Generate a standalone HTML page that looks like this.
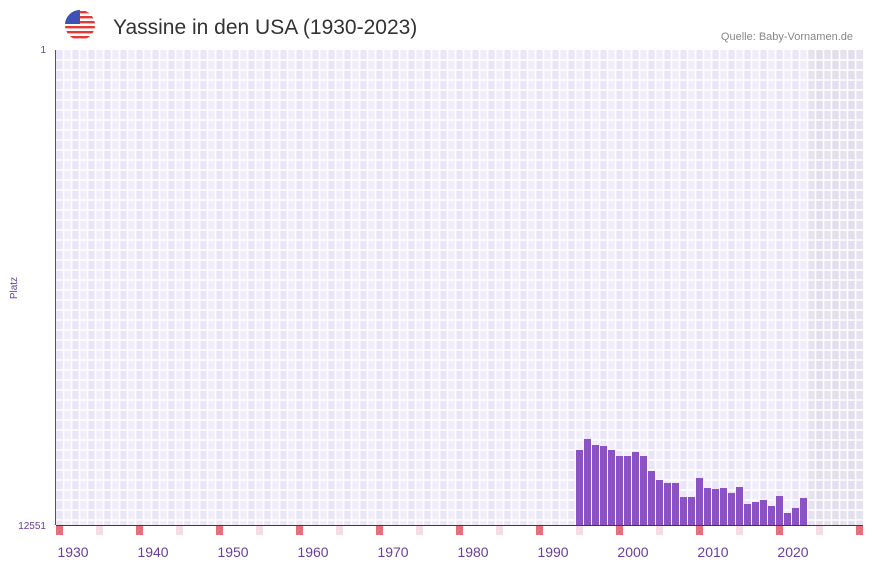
<!DOCTYPE html>
<html><head><meta charset="utf-8">
<style>
body{margin:0;background:#fff;font-family:"Liberation Sans",sans-serif;}
#wrap{position:relative;width:873px;height:567px;overflow:hidden;}
</style></head>
<body>
<div id="wrap">
<svg id="chart" width="873" height="567" xmlns="http://www.w3.org/2000/svg">
  <defs>
    <clipPath id="flagclip"><circle cx="80" cy="25" r="15"/></clipPath>
  </defs>
  <g clip-path="url(#flagclip)">
    <rect x="65" y="10" width="30" height="30" fill="#fff"/>
    <rect x="65" y="11" width="30" height="2.4" fill="#e53935"/>
    <rect x="65" y="16" width="30" height="2.4" fill="#e53935"/>
    <rect x="65" y="21" width="30" height="2.4" fill="#e53935"/>
    <rect x="65" y="26" width="30" height="2.4" fill="#e53935"/>
    <rect x="65" y="31" width="30" height="2.4" fill="#e53935"/>
    <rect x="65" y="36" width="30" height="2.4" fill="#e53935"/>
    <rect x="65" y="10" width="15" height="14" fill="#3f51b5"/>
  </g>
  <text x="113" y="34" font-size="21" fill="#333" font-family="Liberation Sans, sans-serif">Yassine in den USA (1930-2023)</text>
  <text x="853" y="40" font-size="11" fill="#888" text-anchor="end">Quelle: Baby-Vornamen.de</text>
  <g id="grid"></g>
  <g id="bars"></g>
  <g id="axes"></g>
  <text x="17" y="288" font-size="10" fill="#6a3da0" text-anchor="middle" transform="rotate(-90 17 288)">Platz</text>
</svg>
</div>
<script>
const years = [1993,1994,1995,1996,1997,1998,1999,2000,2001,2002,2003,2004,2005,2006,2007,2008,2009,2010,2011,2012,2013,2014,2015,2016,2017,2018,2019,2020,2021];
const ranks = [10569,10279,10437,10464,10569,10728,10728,10622,10728,11124,11362,11441,11441,11811,11811,11309,11573,11600,11573,11705,11547,11996,11943,11890,12049,11785,12234,12102,11837];
const xTicks = [1930,1940,1950,1960,1970,1980,1990,2000,2010,2020];
const yTicks = [1,12551];

const NS="http://www.w3.org/2000/svg";
const X0=56, X1=863, Y0=50, Y1=525, startYear=1928, step=8;
const rankMin=1, rankMax=12551;
function xScale(y){return X0+(y-startYear)*step;}
function yScale(r){return Y0+(r-rankMin)/(rankMax-rankMin)*(Y1-Y0);}
function mk(tag,attrs,parent){const e=document.createElementNS(NS,tag);for(const k in attrs)e.setAttribute(k,attrs[k]);parent.appendChild(e);return e;}

const grid=document.getElementById('grid');
const bg=mk('rect',{x:X0,y:Y0,width:X1-X0,height:Y1-Y0,fill:'#ffffff'},grid);


for(let i=0;(X0+i*step)<X1;i++){
  const x=X0+i*step, yr=startYear+i;
  const future=yr>=2022;
  const col=future?(i%2?'#e2deec':'#e6e2ef'):(i%2?'#f1eefa':'#ebe6f7');
  const c=mk('rect',{x:x,y:Y0,width:Math.min(step,X1-x),height:Y1-Y0,fill:col},grid);
  
  
}
for(let x=X0+step;x<X1;x+=step){
  const l=mk('line',{x1:x-0.5,x2:x-0.5,y1:Y0,y2:Y1,stroke:'#fff','stroke-width':1.5},grid);
  
  
}
for(let y=Y0+10;y<Y1;y+=10){
  const l=mk('line',{x1:X0,x2:X1,y1:y,y2:y,stroke:'#fff','stroke-width':1.5},grid);
  
  
}

const bars=document.getElementById('bars');
years.forEach((yr,i)=>{
  const x=xScale(yr), yt=yScale(ranks[i]);
  const b=mk('rect',{x:x,y:yt,width:7,height:Y1-yt,fill:'#8b52c6'},bars);
  
  
});

const axes=document.getElementById('axes');
for(let yr=startYear;xScale(yr)<X1;yr++){
  const d=yr%10;
  if(d===8||d===3){
    const m=mk('rect',{x:xScale(yr),y:Y1,width:7,height:10,fill:d===8?'#e5707b':'#f5dbe3'},axes);
    
    
  }
}
const ax=mk('line',{x1:X0,x2:X1,y1:Y1+0.5,y2:Y1+0.5,stroke:'#4a2a6e','stroke-width':1},axes);


const ay=mk('line',{x1:X0-0.5,x2:X0-0.5,y1:Y0,y2:Y1,stroke:'#6a3da0','stroke-width':1},axes);


xTicks.forEach(t=>{
  const tx=mk('text',{x:xScale(t)+1,y:557,'font-size':14,fill:'#6a3da0','text-anchor':'middle'},axes);
  tx.textContent=t;
  
  
});
yTicks.forEach(t=>{
  const ty=mk('text',{x:46,y:yScale(t)+(t===1?3:4),'font-size':10,fill:'#6a3da0','text-anchor':'end'},axes);
  ty.textContent=t;
  
  
});
</script>
</body></html>
